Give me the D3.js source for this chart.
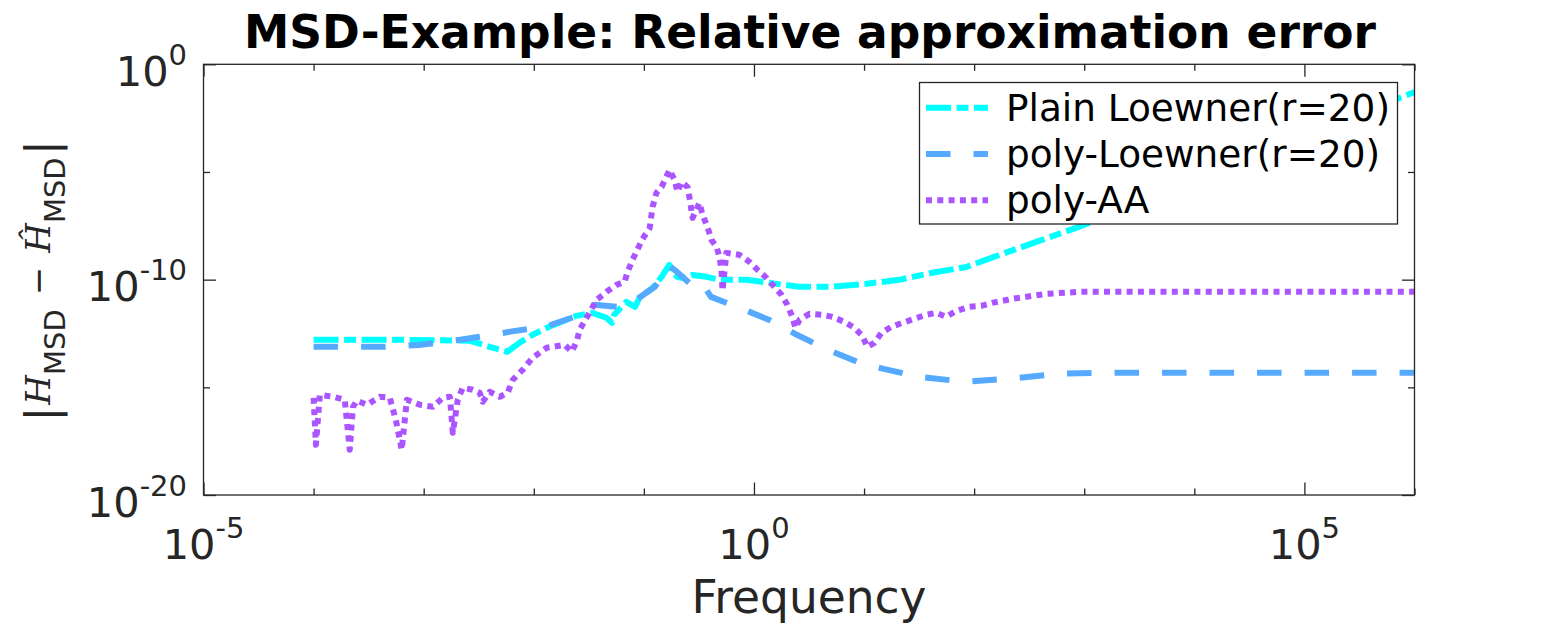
<!DOCTYPE html>
<html>
<head>
<meta charset="utf-8">
<script src="https://cdn.jsdelivr.net/npm/d3@7/dist/d3.min.js"></script>
<style>
  body { margin: 0; background: #fff; }
  svg { display: block; }
</style>
</head>
<body>
<div id="chart"></div>
<script>
// values
const freqPlain = [1e-4, 6.0e-4, 2.63e-3, 3.98e-3, 5.75e-3, 7.41e-3, 9.77e-3, 1.38e-2, 2.45e-2, 3.39e-2,
  4.57e-2, 5.13e-2, 5.37e-2, 6.92e-2, 8.32e-2, 9.12e-2, 0.120, 0.145, 0.170, 0.200,
  0.224, 0.275, 0.372, 0.490, 0.851, 1.38, 2.57, 5.13, 10.5, 20.9,
  41.7, 85.1, 170, 389, 891, 3890, 31600, 1.66e5, 1e6];
const errPlain = [1.62e-13, 1.62e-13, 1.45e-13, 7.6e-14, 4.47e-14, 1.17e-13, 2.75e-13, 6.46e-13, 2.09e-12, 2.88e-12,
  1.70e-12, 1.0e-12, 2.34e-12, 9.33e-12, 5.50e-12, 1.45e-11, 4.17e-11, 1.35e-10, 4.90e-10, 1.35e-10,
  1.20e-10, 1.66e-10, 1.35e-10, 9.8e-11, 9.8e-11, 7.08e-11, 4.68e-11, 4.68e-11, 6.46e-11, 9.8e-11,
  2.09e-10, 3.89e-10, 1.41e-9, 6.31e-9, 2.82e-8, 5.01e-7, 3.63e-5, 1.38e-3, 5.13e-2];

const freqPoly = [1e-4, 4.47e-4, 9.12e-4, 2.14e-3, 3.24e-3, 6.76e-3, 1.26e-2, 2.34e-2, 3.55e-2, 5.75e-2,
  8.51e-2, 0.126, 0.170, 0.200, 0.269, 0.324, 0.355, 0.407, 0.741, 1.38,
  2.45, 4.90, 9.12, 15.1, 31.6, 81.3, 209, 589, 1380, 1e6];
const errPoly = [7.6e-14, 7.6e-14, 9.33e-14, 1.62e-13, 2.24e-13, 4.17e-13, 6.46e-13, 1.86e-12, 6.76e-12, 5.50e-12,
  1.15e-11, 4.68e-11, 4.37e-10, 2.29e-10, 5.75e-11, 3.39e-11, 4.68e-11, 1.58e-11, 4.90e-12, 1.35e-12,
  2.75e-13, 5.01e-14, 1.38e-14, 7.24e-15, 3.09e-15, 1.82e-15, 2.51e-15, 4.27e-15, 4.79e-15, 4.79e-15];

const freqAA = [1e-4, 1.05e-4, 1.14e-4, 1.50e-4, 1.92e-4, 2.13e-4, 2.28e-4, 2.47e-4, 3.05e-4, 4.0e-4,
  4.92e-4, 5.58e-4, 6.32e-4, 7.03e-4, 9.23e-4, 1.21e-3, 1.49e-3, 1.73e-3, 1.84e-3, 2.04e-3,
  2.26e-3, 2.79e-3, 3.23e-3, 3.44e-3, 3.98e-3, 4.91e-3, 5.79e-3, 6.44e-3, 7.92e-3, 9.77e-3,
  1.31e-2, 1.91e-2, 2.21e-2, 2.45e-2, 2.61e-2, 3.02e-2, 3.72e-2, 4.58e-2, 5.65e-2, 6.68e-2,
  7.11e-2, 7.89e-2, 9.73e-2, 0.113, 0.120, 0.130, 0.145, 0.171, 0.190, 0.202,
  0.220, 0.249, 0.260, 0.277, 0.320, 0.341, 0.378, 0.411, 0.457, 0.486,
  0.507, 0.518, 0.562, 0.738, 0.910, 1.08, 1.30, 1.53, 1.78, 2.01,
  2.23, 2.38, 2.59, 3.19, 4.19, 5.15, 6.62, 8.17, 9.66, 10.7,
  12.4, 14.4, 17.7, 22.3, 28.6, 36.7, 45.3, 55.8, 68.9, 90.4,
  116, 146, 222, 451, 899, 1e6];
const errAA = [3.27e-16, 2.16e-18, 4.51e-16, 3.64e-16, 2.64e-16, 1.26e-18, 1.25e-16, 2.38e-16, 1.55e-16, 3.64e-16,
  3.27e-16, 3.12e-17, 1.26e-18, 2.64e-16, 1.55e-16, 1.25e-16, 3.27e-16, 3.64e-16, 7.78e-18, 2.64e-16,
  9.53e-16, 7.69e-16, 5.58e-16, 2.13e-16, 6.22e-16, 3.64e-16, 5.58e-16, 2.24e-15, 6.52e-15, 2.35e-14,
  6.84e-14, 9.42e-14, 4.47e-14, 1.30e-13, 4.69e-13, 1.69e-12, 1.16e-11, 2.72e-11, 5.74e-11, 7.91e-11,
  2.30e-10, 8.30e-10, 7.82e-9, 2.54e-8, 2.39e-7, 1.07e-6, 2.02e-6, 1.24e-5, 4.28e-6, 1.19e-6,
  3.45e-6, 2.02e-6, 6.25e-7, 7.38e-8, 3.66e-7, 1.02e-7, 2.82e-8, 7.03e-9, 3.33e-9, 1.14e-9,
  2.85e-10, 3.02e-11, 1.75e-9, 1.42e-9, 6.70e-10, 2.85e-10, 1.21e-10, 4.63e-11, 1.97e-11, 6.78e-12,
  1.88e-12, 5.79e-13, 1.36e-12, 2.59e-12, 2.33e-12, 1.88e-12, 1.10e-12, 5.79e-13, 2.47e-13, 7.62e-14,
  1.17e-13, 3.40e-13, 6.45e-13, 9.89e-13, 1.52e-12, 2.33e-12, 2.88e-12, 1.88e-12, 3.56e-12, 5.47e-12,
  6.08e-12, 8.38e-12, 1.29e-11, 2.19e-11, 2.72e-11, 2.72e-11];

const seriesNames = ['Plain Loewner(r=20)', 'poly-Loewner(r=20)', 'poly-AA'];
const xMajorTicks = [1e-5, 1e0, 1e5];
const xMinorTicks = [1e-4, 1e-3, 1e-2, 1e-1, 1e1, 1e2, 1e3, 1e4, 1e6];
const xTickExp = ['-5', '0', '5'];
const yMajorTicks = [1e-20, 1e-10, 1e0];
const yMinorTicks = [1e-15, 1e-5];
const yTickExp = ['-20', '-10', '0'];

const W = 1563, H = 625;
const plot = { left: 203.5, right: 1414.5, top: 64.3, bottom: 495 };
const axisColor = '#262626';

const svg = d3.select('#chart').append('svg')
  .attr('width', W).attr('height', H)
  .style('font-family', '"DejaVu Sans", sans-serif');

const x = d3.scaleLog().domain([1e-5, 1e6]).range([plot.left, plot.right]);
const y = d3.scaleLog().domain([1e-20, 1e0]).range([plot.bottom, plot.top]);

// ticks (inward, on all four sides)
function ticks(axisFn, scale, vals, len, tr) {
  const g = svg.append('g').attr('transform', tr)
    .call(axisFn(scale).tickValues(vals).tickSize(-len).tickSizeOuter(0).tickFormat(''));
  g.select('.domain').remove();
  g.selectAll('.tick line').attr('stroke', axisColor).attr('stroke-width', 1.3);
  g.selectAll('.tick text').remove();
}
ticks(d3.axisBottom, x, xMajorTicks, 12.5, `translate(0,${plot.bottom})`);
ticks(d3.axisBottom, x, xMinorTicks, 6.5, `translate(0,${plot.bottom})`);
ticks(d3.axisTop, x, xMajorTicks, 12.5, `translate(0,${plot.top})`);
ticks(d3.axisTop, x, xMinorTicks, 6.5, `translate(0,${plot.top})`);
ticks(d3.axisLeft, y, yMajorTicks, 12.5, `translate(${plot.left},0)`);
ticks(d3.axisLeft, y, yMinorTicks, 6.5, `translate(${plot.left},0)`);
ticks(d3.axisRight, y, yMajorTicks, 12.5, `translate(${plot.right},0)`);
ticks(d3.axisRight, y, yMinorTicks, 6.5, `translate(${plot.right},0)`);

// tick labels with superscripts
xMajorTicks.forEach((t, i) => {
  const tx = svg.append('text')
    .attr('x', x(t)).attr('y', plot.bottom + 64)
    .attr('text-anchor', 'middle').attr('fill', axisColor);
  tx.append('tspan').attr('font-size', 41.5).text('10');
  tx.append('tspan').attr('font-size', 29).attr('dy', -21).text(xTickExp[i]);
});
yMajorTicks.forEach((t, i) => {
  const ty = svg.append('text')
    .attr('x', 187).attr('y', y(t) + 21.5)
    .attr('text-anchor', 'end').attr('fill', axisColor);
  ty.append('tspan').attr('font-size', 41.5).text('10');
  ty.append('tspan').attr('font-size', 29).attr('dy', -21).text(yTickExp[i]);
});

// curves
const styles = [
  { color: '#00ffff', dash: '25 5.5 12 5.5' },
  { color: '#55aaff', dash: '24.5 23' },
  { color: '#aa55ff', dash: '6 5.3' }
];
const series = [
  d3.zip(freqPlain, errPlain),
  d3.zip(freqPoly, errPoly),
  d3.zip(freqAA, errAA)
];
const line = d3.line().x(d => x(d[0])).y(d => y(d[1]));

svg.append('defs').append('clipPath').attr('id', 'plotclip')
  .append('rect').attr('x', plot.left).attr('y', plot.top)
  .attr('width', plot.right - plot.left).attr('height', plot.bottom - plot.top);

svg.append('g').attr('clip-path', 'url(#plotclip)')
  .selectAll('path')
  .data(series)
  .join('path')
  .attr('d', line)
  .attr('fill', 'none')
  .attr('stroke', (d, i) => styles[i].color)
  .attr('stroke-width', 6)
  .attr('stroke-dasharray', (d, i) => styles[i].dash)
  .attr('stroke-linejoin', 'round');

// axes box
svg.append('rect')
  .attr('x', plot.left).attr('y', plot.top)
  .attr('width', plot.right - plot.left).attr('height', plot.bottom - plot.top)
  .attr('fill', 'none').attr('stroke', axisColor).attr('stroke-width', 1.3);

// legend
const lg = svg.append('g');
lg.append('rect')
  .attr('x', 919.5).attr('y', 82.5).attr('width', 478).attr('height', 141.5)
  .attr('fill', '#fff').attr('stroke', axisColor).attr('stroke-width', 1.3);
seriesNames.forEach((name, i) => {
  const cy = 107.7 + i * 46.3;
  lg.append('line')
    .attr('x1', 926).attr('x2', 988).attr('y1', cy).attr('y2', cy)
    .attr('stroke', styles[i].color).attr('stroke-width', 6)
    .attr('stroke-dasharray', styles[i].dash);
  lg.append('text')
    .attr('x', 1006).attr('y', cy + 13)
    .attr('font-size', 37.4).attr('fill', '#000')
    .text(name);
});

// title and axis labels
svg.append('text')
  .attr('x', 810).attr('y', 48)
  .attr('text-anchor', 'middle')
  .attr('font-size', 45.5).attr('font-weight', 'bold').attr('fill', '#000')
  .text('MSD-Example: Relative approximation error');

svg.append('text')
  .attr('x', (plot.left + plot.right) / 2).attr('y', 613)
  .attr('text-anchor', 'middle')
  .attr('font-size', 45.5).attr('fill', axisColor)
  .text('Frequency');

// y label |H_MSD - Ĥ_MSD|, rotated
const serif = '"DejaVu Serif", serif';
const yl = svg.append('text')
  .attr('transform', 'translate(50,281) rotate(-90)')
  .attr('text-anchor', 'middle')
  .attr('fill', axisColor);
yl.append('tspan').attr('font-size', 45).attr('dy', 7).text('|');
yl.append('tspan').attr('font-family', serif).attr('font-style', 'italic')
  .attr('font-size', 34).attr('dy', -7).attr('dx', 2).text('H');
yl.append('tspan').attr('font-size', 29).attr('dy', 15).text('MSD');
yl.append('tspan').attr('font-size', 34).attr('dy', -15).attr('dx', 14).text('\u2212');
yl.append('tspan').attr('font-family', serif).attr('font-style', 'italic')
  .attr('font-size', 34).attr('dx', 14).text('\u0124');
yl.append('tspan').attr('font-size', 29).attr('dy', 15).text('MSD');
yl.append('tspan').attr('font-size', 45).attr('dy', -8).attr('dx', 2).text('|');
</script>
</body>
</html>
